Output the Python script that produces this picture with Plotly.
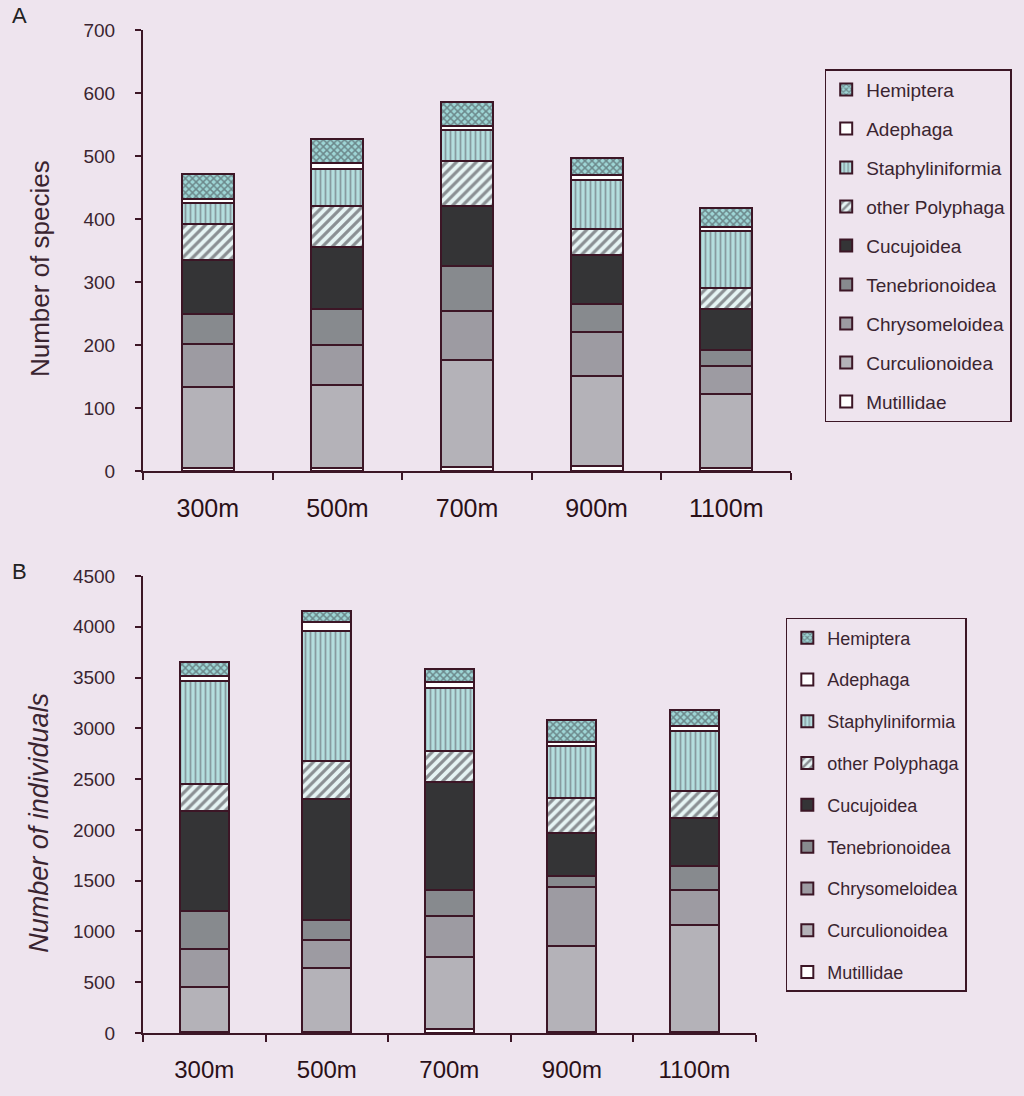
import plotly.graph_objects as go

sites = ["300m", "500m", "700m", "900m", "1100m"]
groups = ["Mutillidae", "Curculionoidea", "Chrysomeloidea", "Tenebrionoidea",
          "Cucujoidea", "other Polyphaga", "Staphyliniformia", "Adephaga", "Hemiptera"]

# Panel A: number of species
sp_mutillidae = [5, 5, 7, 8, 5]
sp_curculionoidea = [129, 131, 169, 143, 117]
sp_chrysomeloidea = [68, 64, 78, 70, 45]
sp_tenebrionoidea = [48, 57, 71, 44, 25]
sp_cucujoidea = [85, 99, 95, 78, 65]
sp_other_polyphaga = [57, 64, 72, 41, 33]
sp_staphyliniformia = [33, 60, 50, 78, 91]
sp_adephaga = [7, 9, 6, 8, 7]
sp_hemiptera = [40, 38, 38, 27, 29]

# Panel B: number of individuals
ind_mutillidae = [10, 10, 35, 10, 10]
ind_curculionoidea = [447, 628, 712, 842, 1056]
ind_chrysomeloidea = [369, 273, 401, 586, 346]
ind_tenebrionoidea = [378, 198, 257, 112, 230]
ind_cucujoidea = [981, 1191, 1066, 421, 477]
ind_other_polyphaga = [263, 378, 306, 346, 263]
ind_staphyliniformia = [1020, 1284, 625, 509, 593]
ind_adephaga = [43, 88, 50, 40, 49]
ind_hemiptera = [139, 109, 131, 217, 158]

species = [sp_mutillidae, sp_curculionoidea, sp_chrysomeloidea, sp_tenebrionoidea,
           sp_cucujoidea, sp_other_polyphaga, sp_staphyliniformia, sp_adephaga, sp_hemiptera]
individuals = [ind_mutillidae, ind_curculionoidea, ind_chrysomeloidea, ind_tenebrionoidea,
               ind_cucujoidea, ind_other_polyphaga, ind_staphyliniformia, ind_adephaga, ind_hemiptera]

BG = "#EEE4EE"
DARK = "#3C1626"
TXT = "#3A2430"

styles = {
    "Mutillidae": dict(color="#FFFFFF"),
    "Curculionoidea": dict(color="#B4B2B8"),
    "Chrysomeloidea": dict(color="#9D9BA2"),
    "Tenebrionoidea": dict(color="#878A8E"),
    "Cucujoidea": dict(color="#343436"),
    "other Polyphaga": dict(color="#E6F4F4", pattern=dict(shape="/", fgcolor="#2E2A32", bgcolor="#E6F4F4", size=7, solidity=0.45)),
    "Staphyliniformia": dict(color="#B4DEDE", pattern=dict(shape="|", fgcolor="#5A5560", bgcolor="#B4DEDE", size=5, solidity=0.35)),
    "Adephaga": dict(color="#FFFFFF"),
    "Hemiptera": dict(color="#9ED6D6", pattern=dict(shape="x", fgcolor="#3A3A40", bgcolor="#9ED6D6", size=5, solidity=0.5)),
}

fig = go.Figure()
for i, (name, vals) in enumerate(zip(groups, species)):
    fig.add_trace(go.Bar(x=sites, y=vals, name=name, xaxis="x", yaxis="y", legend="legend",
                         legendgroup="a_" + name, legendrank=100 - i, width=0.4,
                         marker=dict(**styles[name], line=dict(color=DARK, width=2))))
for i, (name, vals) in enumerate(zip(groups, individuals)):
    fig.add_trace(go.Bar(x=sites, y=vals, name=name, xaxis="x2", yaxis="y2", legend="legend2",
                         legendgroup="b_" + name, legendrank=100 - i, width=0.4,
                         marker=dict(**styles[name], line=dict(color=DARK, width=2))))

axis_common = dict(showline=True, linecolor=DARK, linewidth=2, showgrid=False, zeroline=False,
                   ticks="outside", tickcolor=DARK, tickwidth=2)

fig.update_layout(
    width=1024, height=1096,
    paper_bgcolor=BG, plot_bgcolor=BG,
    barmode="stack",
    margin=dict(l=143, r=221, t=30, b=63),
    font=dict(family="Liberation Sans, Arial, sans-serif", color=TXT),
    xaxis=dict(domain=[0, 1], anchor="y", type="category", tickson="boundaries", ticklen=7,
               tickfont=dict(size=25, color="#2A1018"), ticklabelstandoff=14, **axis_common),
    yaxis=dict(domain=[0.5603, 1.0], anchor="x", range=[0, 700], dtick=100, ticklen=6,
               tickfont=dict(size=19, color=TXT), ticklabelstandoff=16, **axis_common),
    xaxis2=dict(domain=[0, 0.9455], anchor="y2", type="category", tickson="boundaries", ticklen=7,
                tickfont=dict(size=24, color="#2A1018"), ticklabelstandoff=14, **axis_common),
    yaxis2=dict(domain=[0, 0.4556], anchor="x2", range=[0, 4500], dtick=500, ticklen=6,
                tickfont=dict(size=19, color=TXT), ticklabelstandoff=16, **axis_common),
    legend=dict(x=1.052, y=0.961, xanchor="left", yanchor="top", traceorder="grouped",
                tracegroupgap=11.3, bgcolor=BG, bordercolor=DARK, borderwidth=1.5, itemwidth=30,
                font=dict(size=19, color=TXT), itemclick=False),
    legend2=dict(x=0.992, y=0.4138, xanchor="left", yanchor="top", traceorder="grouped",
                 tracegroupgap=15.4, bgcolor=BG, bordercolor=DARK, borderwidth=1.5, itemwidth=30,
                 font=dict(size=18, color=TXT), itemclick=False),
    annotations=[
        dict(text="A", xref="paper", yref="paper", x=-0.205, y=1.0, xanchor="left", yanchor="bottom",
             showarrow=False, font=dict(size=22, color="#222")),
        dict(text="B", xref="paper", yref="paper", x=-0.205, y=0.4556 + 0.005, xanchor="left", yanchor="middle",
             showarrow=False, font=dict(size=22, color="#222")),
        dict(text="Number of species", xref="paper", yref="paper", x=-0.16, y=0.762, xanchor="center",
             yanchor="middle", textangle=-90, showarrow=False, font=dict(size=26, color=TXT)),
        dict(text="<i>Number of individuals</i>", xref="paper", yref="paper", x=-0.16, y=0.21, xanchor="center",
             yanchor="middle", textangle=-90, showarrow=False, font=dict(size=27, color=TXT)),
    ],
)

fig.write_html("out.html", config={"displayModeBar": False},
               post_script="document.body.style.margin='0';")
